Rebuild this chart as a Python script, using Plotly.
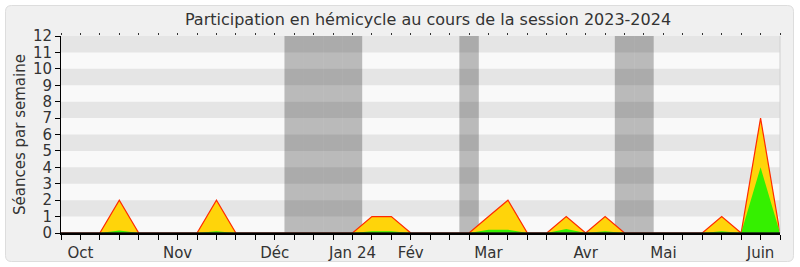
import plotly.graph_objects as go

# ---- data ----
weeks = list(range(38))
presences = [0, 0, 0, 2, 0, 0, 0, 0, 2, 0, 0, 0, 0, 0, 0, 0, 1, 1, 0, 0,
             0, 0, 1, 2, 0, 0, 1, 0, 1, 0, 0, 0, 0, 0, 1, 0, 7, 0]
interventions = [0, 0, 0, 0.15, 0, 0, 0, 0, 0.1, 0, 0, 0, 0, 0, 0, 0, 0.1, 0.1, 0, 0,
                 0, 0, 0.2, 0.2, 0, 0, 0.25, 0, 0.1, 0, 0, 0, 0, 0, 0.1, 0, 4, 0]
holiday_weeks = [12, 13, 14, 15, 21, 29, 30]
month_labels = ["Oct", "Nov", "Déc", "Jan 24", "Fév", "Mar", "Avr", "Mai", "Juin"]
month_weeks = [1, 6, 11, 15, 18, 22, 27, 31, 36]
y_max = 12

W, H = 800, 267
L, R, T, B = 61, 20, 36, 34
pw, ph = W - L - R, H - T - B

def px2x(px):
    return (px - L) / pw

def py2y(py):
    return (H - B - py) / ph

FONT = "DejaVu Sans"
TXT = "#333333"

fig = go.Figure()

fig.add_trace(go.Scatter(x=weeks, y=presences, mode="lines", fill="tozeroy",
                         fillcolor="#ffd40a", line=dict(color="#ff2a00", width=1.2),
                         hoverinfo="skip", showlegend=False))
fig.add_trace(go.Scatter(x=weeks, y=interventions, mode="lines", fill="tozeroy",
                         fillcolor="#35f000", line=dict(color="rgba(0,0,0,0)", width=0),
                         hoverinfo="skip", showlegend=False))
# invisible trace for top tick axis
fig.add_trace(go.Scatter(x=[weeks[0], weeks[-1]], y=[0, 0], xaxis="x2", mode="lines",
                         line=dict(color="rgba(0,0,0,0)"), hoverinfo="skip", showlegend=False))

shapes = []
# outer rounded frame
x0, x1, y0, y1, r = px2x(5.5), px2x(793.5), py2y(261.5), py2y(5.5), 6
rx, ry = r / pw, r / ph
path = (f"M {x0+rx},{y1} L {x1-rx},{y1} Q {x1},{y1} {x1},{y1-ry} "
        f"L {x1},{y0+ry} Q {x1},{y0} {x1-rx},{y0} L {x0+rx},{y0} Q {x0},{y0} {x0},{y0+ry} "
        f"L {x0},{y1-ry} Q {x0},{y1} {x0+rx},{y1} Z")
shapes.append(dict(type="path", path=path, xref="paper", yref="paper",
                   fillcolor="#f0f0f0", line=dict(color="#dddddd", width=1), layer="below"))
# plot background
shapes.append(dict(type="rect", xref="paper", yref="paper", x0=0, x1=1, y0=0, y1=1,
                   fillcolor="#f9f9f9", line=dict(width=0), layer="below"))
# stripes
for v in range(1, y_max, 2):
    shapes.append(dict(type="rect", xref="paper", yref="y", x0=0, x1=1, y0=v, y1=v + 1,
                       fillcolor="#e5e5e5", line=dict(width=0), layer="below"))
# holidays
for wk in holiday_weeks:
    shapes.append(dict(type="rect", xref="x", yref="paper", x0=wk - 0.5, x1=wk + 0.5, y0=0, y1=1,
                       fillcolor="rgba(0,0,0,0.25)", line=dict(width=0), layer="below"))
# right border
shapes.append(dict(type="line", xref="paper", yref="paper", x0=1, x1=1, y0=0, y1=1,
                   line=dict(color="#d0d0d0", width=1)))
# black baseline above traces
shapes.append(dict(type="line", xref="paper", yref="y", x0=0, x1=1, y0=0, y1=0,
                   line=dict(color="#1a1a1a", width=1.6), layer="above"))

ticktext = []
for wk in weeks:
    ticktext.append(month_labels[month_weeks.index(wk)] if wk in month_weeks else "")

fig.update_layout(
    width=W, height=H,
    margin=dict(l=L, r=R, t=T, b=B, autoexpand=False),
    paper_bgcolor="white",
    plot_bgcolor="rgba(0,0,0,0)",
    shapes=shapes,
    title=dict(text="Participation en hémicycle au cours de la session 2023-2024",
               x=0.535, xanchor="center", y=1 - 19 / H, yanchor="middle",
               font=dict(family=FONT, size=16, color=TXT)),
    xaxis=dict(range=[weeks[0], weeks[-1]], tickmode="array", tickvals=weeks, ticktext=ticktext,
               ticks="outside", ticklen=5, tickcolor="black", tickwidth=1, automargin=False,
               showline=True, linecolor="black", linewidth=1.5, showgrid=False, zeroline=False,
               tickfont=dict(family=FONT, size=15, color=TXT), fixedrange=True),
    xaxis2=dict(range=[weeks[0], weeks[-1]], overlaying="x", side="top", tickmode="array",
                tickvals=weeks, ticks="outside", ticklen=2, tickcolor="#333", showticklabels=False,
                showline=False, showgrid=False, zeroline=False, automargin=False),
    yaxis=dict(range=[0, y_max], tickmode="linear", tick0=0, dtick=1, automargin=False,
               ticks="outside", ticklen=5, tickcolor="black",
               showline=True, linecolor="black", linewidth=1, showgrid=False, zeroline=False,
               tickfont=dict(family=FONT, size=15, color=TXT),
               title=dict(text="Séances par semaine", font=dict(family=FONT, size=15, color=TXT),
                          standoff=3)),
    font=dict(family=FONT, color=TXT),
)

fig.write_html("out.html")
